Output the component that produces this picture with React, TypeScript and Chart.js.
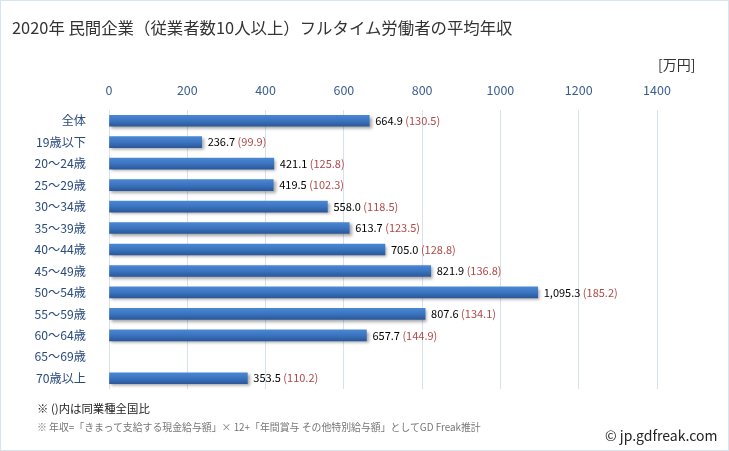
import React, { useEffect, useRef } from "react";
import { Chart, registerables } from "chart.js";

Chart.register(...registerables);

const categories = [
  "全体", "19歳以下", "20～24歳", "25～29歳", "30～34歳", "35～39歳", "40～44歳",
  "45～49歳", "50～54歳", "55～59歳", "60～64歳", "65～69歳", "70歳以上",
];
const salaries: (number | null)[] = [
  664.9, 236.7, 421.1, 419.5, 558.0, 613.7, 705.0, 821.9, 1095.3, 807.6, 657.7, null, 353.5,
];
const ratios: (number | null)[] = [
  130.5, 99.9, 125.8, 102.3, 118.5, 123.5, 128.8, 136.8, 185.2, 134.1, 144.9, null, 110.2,
];
const xMax = 1400;
const xStep = 200;

const TITLE = "2020年 民間企業（従業者数10人以上）フルタイム労働者の平均年収";
const UNIT = "[万円]";
const NOTE1 = "※ ()内は同業種全国比";
const NOTE2 = "※ 年収=「きまって支給する現金給与額」× 12+「年間賞与 その他特別給与額」としてGD Freak推計";
const CREDIT = "© jp.gdfreak.com";

const FONT = "'Noto Sans CJK JP', 'Noto Sans', sans-serif";

const fmt = (v: number) =>
  v.toLocaleString("en-US", { minimumFractionDigits: 1, maximumFractionDigits: 1 });

const shadowPlugin = {
  id: "barShadow",
  beforeDatasetsDraw(chart: any) {
    const c = chart.ctx;
    c.save();
    c.shadowColor = "rgba(0,0,0,0.35)";
    c.shadowOffsetX = 2;
    c.shadowOffsetY = 2;
    c.shadowBlur = 3;
  },
  afterDatasetsDraw(chart: any) {
    chart.ctx.restore();
  },
};

const labelPlugin = {
  id: "valueLabels",
  afterDatasetsDraw(chart: any) {
    const c = chart.ctx;
    const meta = chart.getDatasetMeta(0);
    c.save();
    c.font = `11px ${FONT}`;
    c.textBaseline = "middle";
    c.textAlign = "left";
    meta.data.forEach((el: any, i: number) => {
      const v = salaries[i];
      if (v == null) return;
      const t1 = fmt(v);
      const x = el.x + 6;
      c.fillStyle = "#000000";
      c.fillText(t1, x, el.y);
      const w = c.measureText(t1 + " ").width;
      const r = ratios[i];
      if (r != null) {
        c.fillStyle = "#b04a48";
        c.fillText(`(${fmt(r)})`, x + w, el.y);
      }
    });
    c.restore();
  },
};

export default function App() {
  const ref = useRef<HTMLCanvasElement>(null);
  useEffect(() => {
    if (!ref.current) return;
    const chart = new Chart(ref.current, {
      type: "bar",
      data: {
        labels: categories,
        datasets: [
          {
            data: salaries,
            barThickness: 11,
            backgroundColor: (ctx: any) => {
              const chart = ctx.chart;
              const ys = chart.scales?.y;
              if (!ys || ctx.dataIndex == null) return "#3a72bd";
              const y = ys.getPixelForValue(ctx.dataIndex);
              if (!Number.isFinite(y)) return "#3a72bd";
              const g = chart.ctx.createLinearGradient(0, y - 5.5, 0, y + 5.5);
              g.addColorStop(0, "#4a87d2");
              g.addColorStop(0.5, "#3b74c0");
              g.addColorStop(1, "#2b5899");
              return g;
            },
            borderWidth: 0,
          },
        ],
      },
      options: {
        indexAxis: "y",
        responsive: false,
        animation: false,
        devicePixelRatio: 1,
        layout: { padding: { left: 9, right: 72, top: 80, bottom: 62 } },
        plugins: {
          legend: { display: false },
          tooltip: { enabled: false },
          title: { display: false },
        },
        scales: {
          x: {
            position: "top",
            min: 0,
            max: xMax,
            ticks: {
              stepSize: xStep,
              color: "#3b5e91",
              font: { family: FONT, size: 12.5 },
              padding: 12,
              callback: (v: any) => String(v),
            },
            grid: { color: "#d6e2f0", drawTicks: false },
            border: { display: false },
            afterFit: (s: any) => {
              s.height = 30;
            },
          },
          y: {
            ticks: {
              color: "#2a4b7c",
              font: { family: FONT, size: 12.2 },
              padding: 15,
            },
            grid: { display: false },
            border: { display: false },
            afterFit: (s: any) => {
              s.width = 100;
            },
          },
        },
      } as any,
      plugins: [shadowPlugin, labelPlugin],
    });
    return () => chart.destroy();
  }, []);

  return (
    <div
      style={{
        position: "absolute",
        left: 0,
        top: 0,
        width: 729,
        height: 451,
        background: "#ffffff",
        fontFamily: FONT,
        overflow: "hidden",
      }}
    >
      <canvas ref={ref} width={729} height={451} style={{ position: "absolute", left: 0, top: 0 }} />
      <div style={{ position: "absolute", left: 12, top: 16, fontSize: 16.4, color: "#333333", whiteSpace: "nowrap", lineHeight: "22px" }}>
        {TITLE}
      </div>
      <div style={{ position: "absolute", left: 658, top: 54, fontSize: 14, color: "#333333", whiteSpace: "nowrap", lineHeight: "20px" }}>
        {UNIT}
      </div>
      <div style={{ position: "absolute", left: 37, top: 400, fontSize: 11.4, color: "#222222", whiteSpace: "nowrap", lineHeight: "16px" }}>
        {NOTE1}
      </div>
      <div style={{ position: "absolute", left: 37, top: 420, fontSize: 9.9, color: "#777777", whiteSpace: "nowrap", lineHeight: "14px" }}>
        {NOTE2}
      </div>
      <div style={{ position: "absolute", left: 605, top: 426, fontSize: 14, color: "#222222", whiteSpace: "nowrap", lineHeight: "18px" }}>
        {CREDIT}
      </div>
      <div
        style={{
          position: "absolute",
          left: 0,
          top: 0,
          width: 729,
          height: 451,
          boxSizing: "border-box",
          border: "1px solid #d9e4f1",
          pointerEvents: "none",
        }}
      />
    </div>
  );
}
